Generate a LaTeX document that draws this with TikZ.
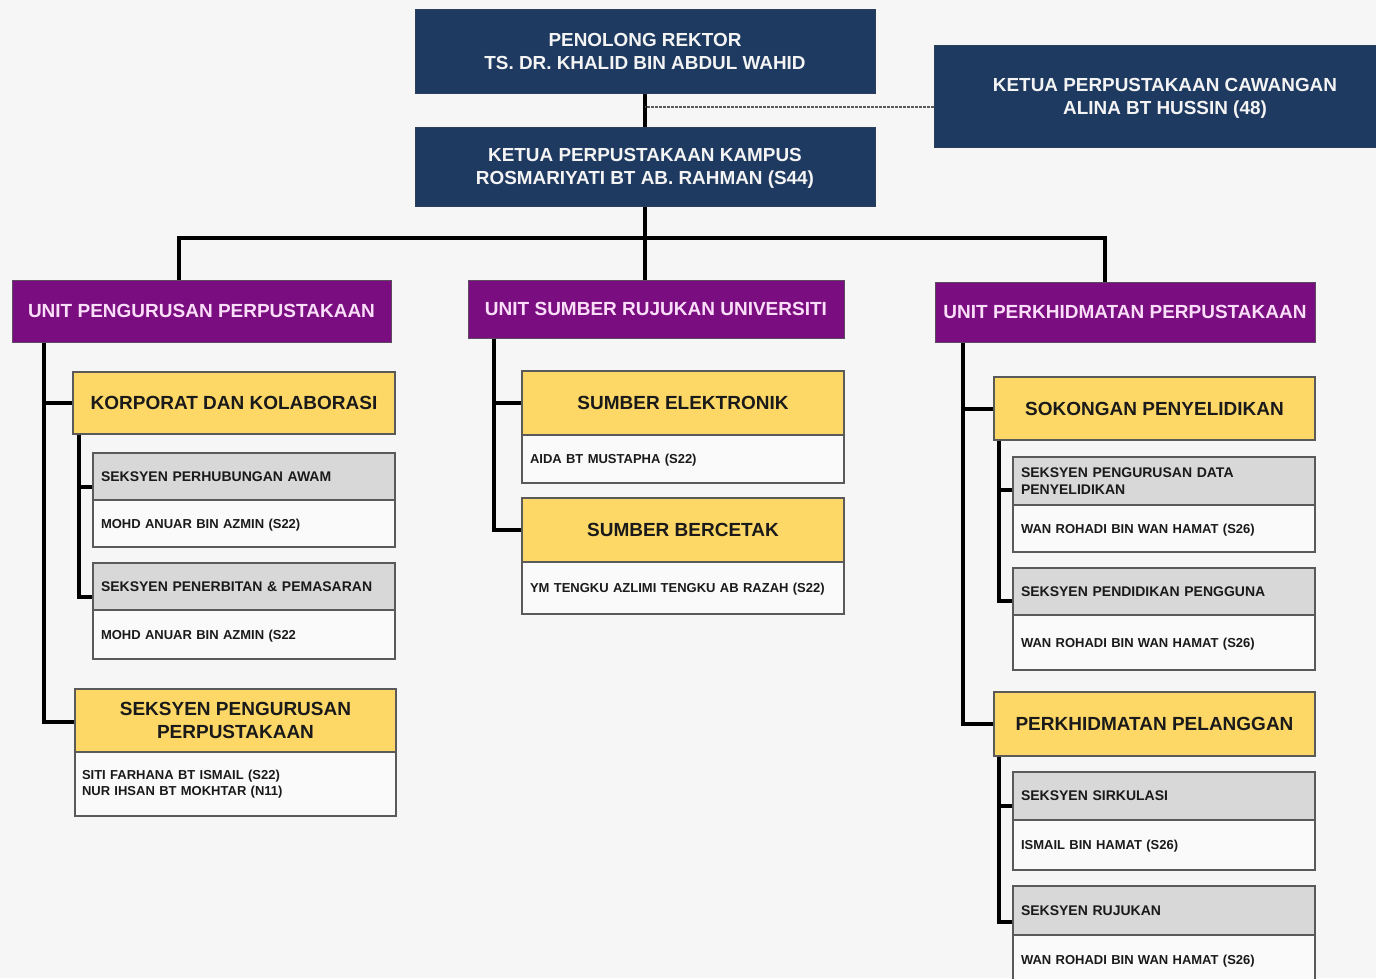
\documentclass[tikz,border=0pt]{standalone}
\usepackage{fontspec}
\setmainfont{Liberation Sans}
\definecolor{bgc}{HTML}{F6F6F6}
\definecolor{navy}{HTML}{1F3A60}
\definecolor{navyedge}{HTML}{2B3F5C}
\definecolor{navytext}{HTML}{F4F4F4}
\definecolor{unitpurple}{HTML}{7A0D80}
\definecolor{unitedge}{HTML}{5E4A60}
\definecolor{unittext}{HTML}{FADDF8}
\definecolor{headyellow}{HTML}{FDD866}
\definecolor{secgrey}{HTML}{D8D8D8}
\definecolor{namewhite}{HTML}{FAFAFA}
\definecolor{boxedge}{HTML}{5A5A5A}
\definecolor{ink}{HTML}{1A1A1A}
\definecolor{dashgrey}{HTML}{5A5A5A}
\begin{document}
\begin{tikzpicture}[x=1pt,y=-1pt,
  navybox/.style={rectangle, fill=navy, draw=navyedge, line width=1pt, text=navytext, align=center, text depth=0pt, font=\bfseries\fontsize{18.9}{23}\selectfont},
  unitbox/.style={rectangle, fill=unitpurple, draw=unitedge, line width=1pt, text=unittext, text depth=0pt, font=\bfseries\fontsize{19}{22}\selectfont},
  headbox/.style={rectangle, fill=headyellow, draw=boxedge, line width=1.5pt, text=ink, align=center, text depth=0pt, font=\bfseries\fontsize{19}{23}\selectfont},
  secbase/.style={rectangle, fill=secgrey, draw=boxedge, line width=1.5pt, text=ink, align=left, inner xsep=8pt, font=\bfseries\fontsize{14}{17}\selectfont},
  namebase/.style={rectangle, fill=namewhite, draw=boxedge, line width=1.5pt, text=ink, align=left, inner xsep=8pt, font=\bfseries\fontsize{13}{16}\selectfont},
  secbox/.style={secbase, text depth=0pt},
  namebox/.style={namebase, text depth=0pt},
  conn/.style={draw=black, line width=4pt},
  dotline/.style={draw=dashgrey, line width=1.2pt, dash pattern=on 2.5pt off 1.5pt}]
\fill[bgc] (0,0) rectangle (1376,978);
\useasboundingbox (0,0) rectangle (1376,978);

% top level
\node[navybox, minimum width=460pt, minimum height=84pt] (rektor) at (645,51) {PENOLONG REKTOR\\TS. DR. KHALID BIN ABDUL WAHID};
\node[navybox, minimum width=460pt, minimum height=79pt] (kampus) at (645,166.5) {KETUA PERPUSTAKAAN KAMPUS\\ROSMARIYATI BT AB. RAHMAN (S44)};
\node[navybox, minimum width=462pt, minimum height=102pt] (caw) at (1165,96) {KETUA PERPUSTAKAAN CAWANGAN\\ALINA BT HUSSIN (48)};

% units
\node[unitbox, minimum width=379pt, minimum height=62pt] (unitA) at (201.5,311) {UNIT PENGURUSAN PERPUSTAKAAN};
\node[unitbox, minimum width=376pt, minimum height=58pt] (unitB) at (656,309) {UNIT SUMBER RUJUKAN UNIVERSITI};
\node[unitbox, minimum width=380pt, minimum height=60pt] (unitC) at (1125,312) {UNIT PERKHIDMATAN PERPUSTAKAAN};

% left column
\node[headbox, minimum width=322pt, minimum height=62pt] (korp) at (234,403) {KORPORAT DAN KOLABORASI};
\node[secbox, text width=286pt, minimum height=47pt] (ghA1) at (244,476.5) {SEKSYEN PERHUBUNGAN AWAM};
\node[namebox, text width=286pt, minimum height=47pt] (nmA1) at (244,523.5) {MOHD ANUAR BIN AZMIN (S22)};
\node[secbox, text width=286pt, minimum height=47pt] (ghA2) at (244,586.5) {SEKSYEN PENERBITAN \& PEMASARAN};
\node[namebox, text width=286pt, minimum height=49pt] (nmA2) at (244,634.5) {MOHD ANUAR BIN AZMIN (S22};
\node[headbox, minimum width=321pt, minimum height=63pt] (spp) at (235.5,720.5) {SEKSYEN PENGURUSAN\\PERPUSTAKAAN};
\node[namebase, inner xsep=7pt, text width=307pt, minimum height=64pt] (nmA3) at (235.5,784) {SITI FARHANA BT ISMAIL (S22)\\NUR IHSAN BT MOKHTAR (N11)};

% middle column
\node[headbox, minimum width=322pt, minimum height=64pt] (seE) at (683,403) {SUMBER ELEKTRONIK};
\node[namebox, text width=306pt, minimum height=48pt] (nmB1) at (683,459) {AIDA BT MUSTAPHA (S22)};
\node[headbox, minimum width=322pt, minimum height=64pt] (seB) at (683,530) {SUMBER BERCETAK};
\node[namebox, text width=306pt, minimum height=52pt] (nmB2) at (683,588) {YM TENGKU AZLIMI TENGKU AB RAZAH (S22)};

% right column
\node[headbox, minimum width=321pt, minimum height=63pt] (sok) at (1154.5,408.5) {SOKONGAN PENYELIDIKAN};
\node[secbase, text width=286pt, minimum height=48pt] (ghC1) at (1164,481) {SEKSYEN PENGURUSAN DATA\\PENYELIDIKAN};
\node[namebox, text width=286pt, minimum height=47pt] (nmC1) at (1164,528.5) {WAN ROHADI BIN WAN HAMAT (S26)};
\node[secbox, text width=286pt, minimum height=47pt] (ghC2) at (1164,591.5) {SEKSYEN PENDIDIKAN PENGGUNA};
\node[namebox, text width=286pt, minimum height=55pt] (nmC2) at (1164,642.5) {WAN ROHADI BIN WAN HAMAT (S26)};
\node[headbox, minimum width=321pt, minimum height=64pt] (pel) at (1154.5,724) {PERKHIDMATAN PELANGGAN};
\node[secbox, text width=286pt, minimum height=48pt] (ghC3) at (1164,796) {SEKSYEN SIRKULASI};
\node[namebox, text width=286pt, minimum height=50pt] (nmC3) at (1164,845) {ISMAIL BIN HAMAT (S26)};
\node[secbox, text width=286pt, minimum height=49pt] (ghC4) at (1164,910.5) {SEKSYEN RUJUKAN};
\node[namebox, text width=286pt, minimum height=50pt] (nmC4) at (1164,960) {WAN ROHADI BIN WAN HAMAT (S26)};

% top connectors
\draw[conn] (rektor.south) -- (kampus.north);
\path ([yshift=-11pt]caw.west) coordinate (dashE);
\draw[dotline] (dashE) -- (dashE -| rektor.south);
\draw[conn] (kampus.south) -- (kampus.south |- unitB.north);
\draw[conn] ([xshift=-22.5pt]unitA.north) |- ([yshift=-31pt]kampus.south) -| ([xshift=-20pt]unitC.north);

% left connectors
\draw[conn] ([xshift=32pt]unitA.south west) |- (korp.west);
\draw[conn] ([xshift=32pt]unitA.south west) |- ([yshift=-1.5pt]spp.west);
\draw[conn] ([xshift=7pt]korp.south west) |- ([yshift=-10pt]ghA1.west);
\draw[conn] ([xshift=7pt]korp.south west) |- ([yshift=-10pt]ghA2.west);

% middle connectors
\draw[conn] ([xshift=26pt]unitB.south west) |- (seE.west);
\draw[conn] ([xshift=26pt]unitB.south west) |- (seB.west);

% right connectors
\draw[conn] ([xshift=28pt]unitC.south west) |- (sok.west);
\draw[conn] ([xshift=28pt]unitC.south west) |- (pel.west);
\draw[conn] ([xshift=6pt]sok.south west) |- ([yshift=-9pt]ghC1.west);
\draw[conn] ([xshift=6pt]sok.south west) |- ([yshift=-9.5pt]ghC2.west);
\draw[conn] ([xshift=6pt]pel.south west) |- ([yshift=-10pt]ghC3.west);
\draw[conn] ([xshift=6pt]pel.south west) |- ([yshift=-11.5pt]ghC4.west);
\end{tikzpicture}
\end{document}
